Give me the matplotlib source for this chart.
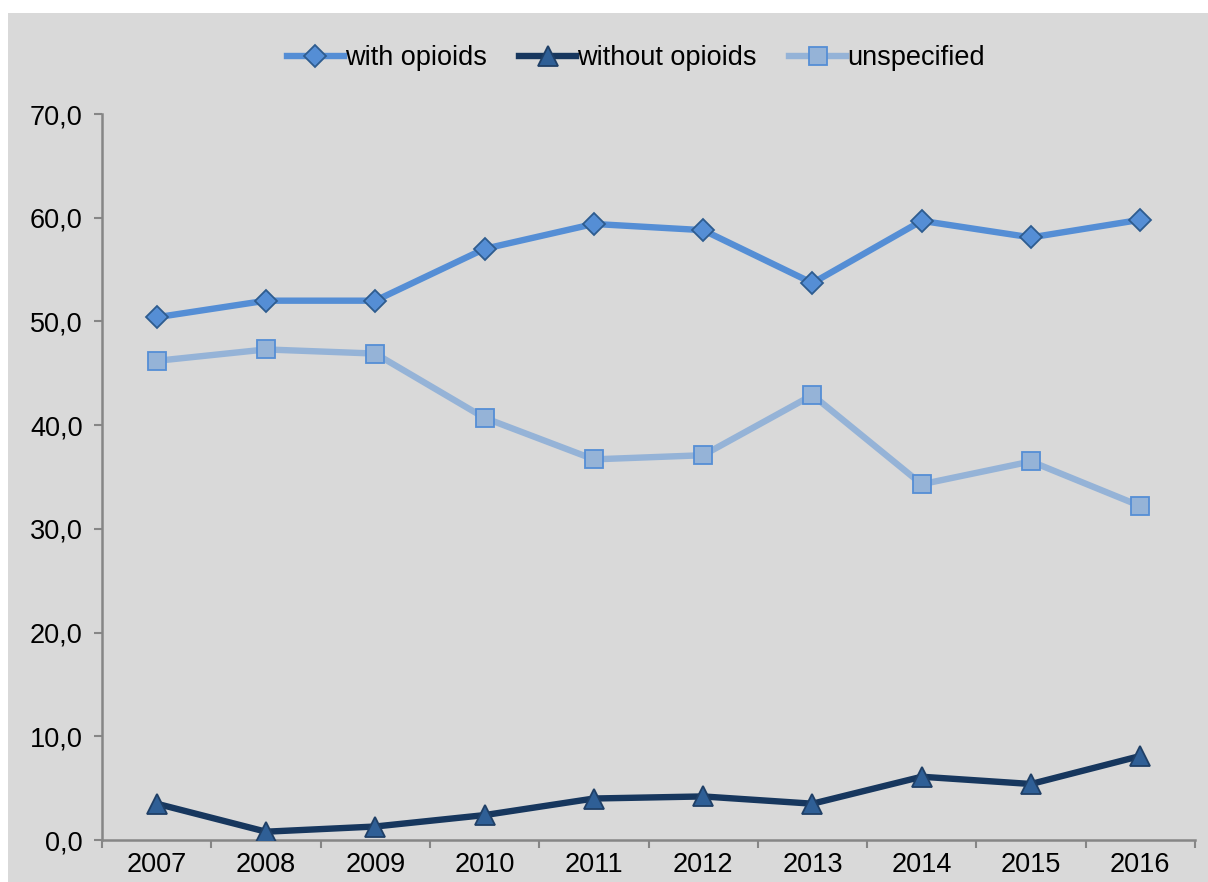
import matplotlib
matplotlib.use("Agg")
import matplotlib.pyplot as plt
from matplotlib.patches import Rectangle
from matplotlib.ticker import FixedLocator, FuncFormatter
import numpy as np

plt.rcParams['font.family'] = ['Liberation Sans', 'DejaVu Sans']

years = [2007, 2008, 2009, 2010, 2011, 2012, 2013, 2014, 2015, 2016]
with_opioids = [50.4, 52.0, 52.0, 57.0, 59.4, 58.8, 53.7, 59.7, 58.1, 59.8]
without_opioids = [3.5, 0.8, 1.3, 2.4, 4.0, 4.2, 3.5, 6.1, 5.4, 8.1]
unspecified = [46.2, 47.3, 46.9, 40.7, 36.7, 37.1, 42.9, 34.3, 36.5, 32.2]
y_ticks = [0, 10, 20, 30, 40, 50, 60, 70]

bg = '#d9d9d9'
axis_grey = '#868686'
fs = 19.5

fig = plt.figure(figsize=(12.08, 8.82), dpi=100)
fig.patch.set_facecolor('white')
fig.patches.append(Rectangle((8 / 1208, 0), 1 - 8 / 1208, 1 - 13 / 882,
                             transform=fig.transFigure, facecolor=bg,
                             edgecolor='none', zorder=-5))

ax = fig.add_axes([102 / 1208, 1 - 840 / 882, (1195 - 102) / 1208, (840 - 114) / 882])
ax.set_facecolor(bg)
ax.set_zorder(1)

x = np.arange(len(years))
ax.plot(x, with_opioids, color='#558ed5', lw=4.6, marker='D', ms=11.5,
        mfc='#558ed5', mec='#2e5c8f', mew=1.3, label='with opioids', zorder=3)
ax.plot(x, without_opioids, color='#17375e', lw=4.6, marker='^', ms=14,
        mfc='#2f5f96', mec='#1f3f66', mew=1.3, label='without opioids', zorder=3)
ax.plot(x, unspecified, color='#95b3d7', lw=4.6, marker='s', ms=13,
        mfc='#95b3d7', mec='#558ed5', mew=1.3, label='unspecified', zorder=3)

ax.set_xlim(-0.5, len(years) - 0.5)
ax.set_ylim(0, 70)

ax.xaxis.set_major_locator(FixedLocator(np.arange(len(years) + 1) - 0.5))
ax.xaxis.set_major_formatter(FuncFormatter(lambda v, p: ''))
ax.xaxis.set_minor_locator(FixedLocator(x))
ax.set_xticklabels([str(y) for y in years], minor=True)
ax.tick_params(axis='x', which='major', direction='out', length=6, width=1.5,
               color=axis_grey)
ax.tick_params(axis='x', which='minor', length=0, pad=9, labelsize=fs)

ax.set_yticks(y_ticks)
ax.yaxis.set_major_formatter(FuncFormatter(lambda v, p: f'{v:.1f}'.replace('.', ',')))
ax.tick_params(axis='y', direction='out', length=6, width=1.5, color=axis_grey,
               pad=8, labelsize=fs)

for side in ('top', 'right'):
    ax.spines[side].set_visible(False)
for side in ('left', 'bottom'):
    ax.spines[side].set_color(axis_grey)
    ax.spines[side].set_linewidth(1.8)

fig.legend(loc='center', bbox_to_anchor=(636 / 1208, 1 - 58 / 882), ncol=3,
           frameon=False, fontsize=fs, handlelength=2.1, handletextpad=0.05,
           columnspacing=1.2)

fig.savefig('out.png', dpi=100, facecolor=fig.get_facecolor())
